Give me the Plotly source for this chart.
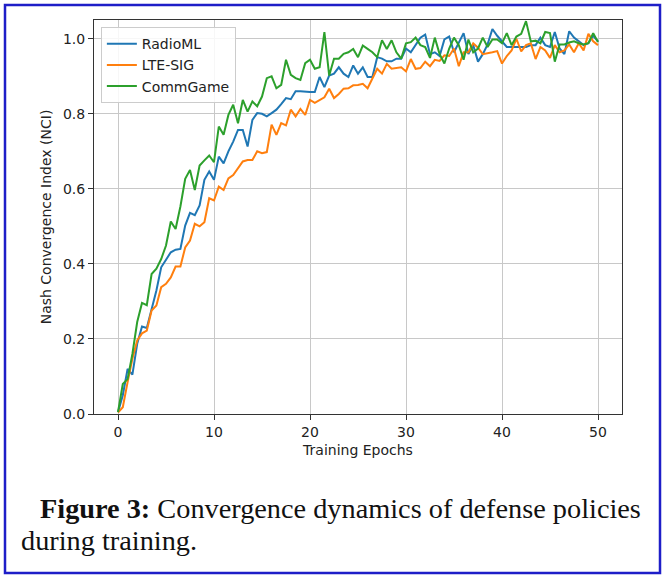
import plotly.graph_objects as go

# ---- data ----
epochs = [i * 0.5 for i in range(101)]

radioml = [
    0.005, 0.05, 0.12, 0.105, 0.187, 0.233, 0.229, 0.28, 0.329, 0.391,
    0.413, 0.431, 0.438, 0.44, 0.502, 0.536, 0.53, 0.556, 0.624, 0.646,
    0.624, 0.686, 0.668, 0.70, 0.726, 0.757, 0.757, 0.713, 0.784, 0.802,
    0.80, 0.793, 0.802, 0.811, 0.826, 0.842, 0.839, 0.86, 0.86, 0.858,
    0.858, 0.858, 0.898, 0.871, 0.902, 0.907, 0.924, 0.907, 0.898, 0.929,
    0.907, 0.924, 0.898, 0.898, 0.951, 0.947, 0.94, 0.94, 0.947, 0.947,
    0.974, 0.964, 0.985, 1.003, 1.011, 0.959, 0.964, 0.954, 0.998, 1.006,
    0.964, 0.99, 1.015, 0.959, 0.983, 0.939, 0.959, 0.985, 1.026, 1.008,
    0.993, 0.978, 0.978, 0.978, 0.978, 0.978, 0.983, 0.983, 1.003, 0.983,
    0.978, 1.018, 0.974, 0.959, 1.02, 1.003, 0.993, 0.983, 0.988, 1.008,
    0.993,
]

lte_sig = [
    0.004, 0.018, 0.085, 0.147, 0.196, 0.215, 0.222, 0.276, 0.289, 0.338,
    0.347, 0.364, 0.393, 0.393, 0.444, 0.462, 0.507, 0.50, 0.511, 0.575,
    0.569, 0.606, 0.597, 0.628, 0.637, 0.655, 0.673, 0.677, 0.677, 0.70,
    0.695, 0.698, 0.771, 0.744, 0.775, 0.769, 0.811, 0.793, 0.813, 0.797,
    0.837, 0.829, 0.836, 0.844, 0.867, 0.842, 0.853, 0.867, 0.868, 0.876,
    0.877, 0.88, 0.868, 0.893, 0.92, 0.907, 0.933, 0.92, 0.922, 0.924,
    0.913, 0.946, 0.92, 0.922, 0.939, 0.927, 0.944, 0.941, 0.956, 0.954,
    0.974, 0.927, 0.964, 0.964, 0.988, 0.976, 0.959, 0.961, 0.964, 0.967,
    0.934, 0.954, 0.969, 1.0, 0.966, 0.983, 0.988, 0.946, 0.978, 0.969,
    0.949, 0.983, 0.964, 0.969, 0.985, 0.964, 0.988, 0.969, 1.013, 0.993,
    0.983,
]

commgame = [
    0.005, 0.08, 0.093, 0.16, 0.245, 0.296, 0.29, 0.373, 0.387, 0.413,
    0.449, 0.513, 0.493, 0.553, 0.627, 0.65, 0.597, 0.662, 0.676, 0.689,
    0.671, 0.766, 0.744, 0.797, 0.824, 0.775, 0.837, 0.806, 0.833, 0.82,
    0.846, 0.895, 0.90, 0.868, 0.877, 0.944, 0.904, 0.895, 0.89, 0.935,
    0.944, 0.92, 0.924, 1.018, 0.902, 0.947, 0.947, 0.96, 0.964, 0.973,
    0.951, 0.982, 0.973, 0.964, 0.951, 0.996, 0.973, 0.996, 0.964, 0.947,
    0.988, 0.991, 1.003, 0.983, 0.978, 0.949, 1.003, 0.959, 0.934, 0.974,
    1.003, 0.983, 0.944, 0.998, 0.964, 0.974, 1.003, 0.978, 0.998, 0.998,
    0.988, 1.015, 0.983, 1.006, 1.013, 1.047, 0.993, 0.995, 0.988, 1.018,
    1.015, 0.939, 0.985, 0.985, 0.99, 0.993, 0.988, 0.985, 0.988, 1.015,
    0.991,
]

series_names = ["RadioML", "LTE-SIG", "CommGame"]
series_values = [radioml, lte_sig, commgame]
series_colors = ["#1f77b4", "#ff7f0e", "#2ca02c"]

x_ticks = [0, 10, 20, 30, 40, 50]
y_ticks = [0.0, 0.2, 0.4, 0.6, 0.8, 1.0]

x_title = "Training Epochs"
y_title = "Nash Convergence Index (NCI)"
caption_bold = "Figure 3:"
caption_line1 = " Convergence dynamics of defense policies"
caption_line2 = "during training."

# ---- layout geometry ----
W, H = 665, 577
L, R, T, B = 94, 43, 20, 163
pw, ph = W - L - R, H - T - B


def px_to_paper_x(px):
    return (px - L) / pw


def py_to_paper_y(py):
    return (H - B - py) / ph


fig = go.Figure()
for name, vals, col in zip(series_names, series_values, series_colors):
    fig.add_trace(go.Scatter(
        x=epochs, y=vals, mode="lines", name=name,
        line=dict(color=col, width=2),
    ))

axis_font = dict(family="DejaVu Sans", size=14, color="#222222")

fig.update_layout(
    width=W, height=H,
    margin=dict(l=L, r=R, t=T, b=B),
    paper_bgcolor="white", plot_bgcolor="white",
    showlegend=True,
    legend=dict(
        x=0.013, y=0.982, xanchor="left", yanchor="top",
        bgcolor="rgba(255,255,255,0.85)", bordercolor="#cccccc", borderwidth=1,
        font=dict(family="DejaVu Sans", size=14, color="#222222"),
        tracegroupgap=0, itemwidth=30,
    ),
    xaxis=dict(
        range=[-2.5, 52.5], tickvals=x_ticks, ticktext=[str(v) for v in x_ticks],
        showgrid=True, gridcolor="#c8c8c8", gridwidth=1,
        showline=True, linecolor="#333333", linewidth=1, mirror=True,
        ticks="outside", ticklen=5, tickcolor="#333333",
        tickfont=axis_font, zeroline=False,
        title=dict(text=x_title, font=axis_font, standoff=6),
    ),
    yaxis=dict(
        range=[0, 1.05], tickvals=y_ticks, ticktext=[f"{v:.1f}" for v in y_ticks],
        showgrid=True, gridcolor="#c8c8c8", gridwidth=1,
        showline=True, linecolor="#333333", linewidth=1, mirror=True,
        ticks="outside", ticklen=5, tickcolor="#333333",
        tickfont=axis_font, zeroline=False,
        title=dict(text=y_title, font=axis_font, standoff=8),
    ),
)

# blue frame around the whole figure
fig.add_shape(
    type="rect", xref="paper", yref="paper",
    x0=px_to_paper_x(5), x1=px_to_paper_x(660),
    y0=py_to_paper_y(573), y1=py_to_paper_y(5),
    line=dict(color="#1e1ec8", width=2.5), fillcolor="rgba(0,0,0,0)",
    layer="above",
)

cap_font = dict(family="Liberation Serif", size=28.3, color="#111111")
fig.add_annotation(
    xref="paper", yref="paper",
    x=px_to_paper_x(38), y=py_to_paper_y(508),
    xanchor="left", yanchor="middle", showarrow=False,
    text=f"<b>{caption_bold}</b>{caption_line1}", font=cap_font,
)
fig.add_annotation(
    xref="paper", yref="paper",
    x=px_to_paper_x(19), y=py_to_paper_y(540),
    xanchor="left", yanchor="middle", showarrow=False,
    text=caption_line2, font=cap_font,
)

fig.write_html(
    "out.html",
    config={"displayModeBar": False},
    post_script="document.body.style.margin='0px';document.body.style.padding='0px';",
)
